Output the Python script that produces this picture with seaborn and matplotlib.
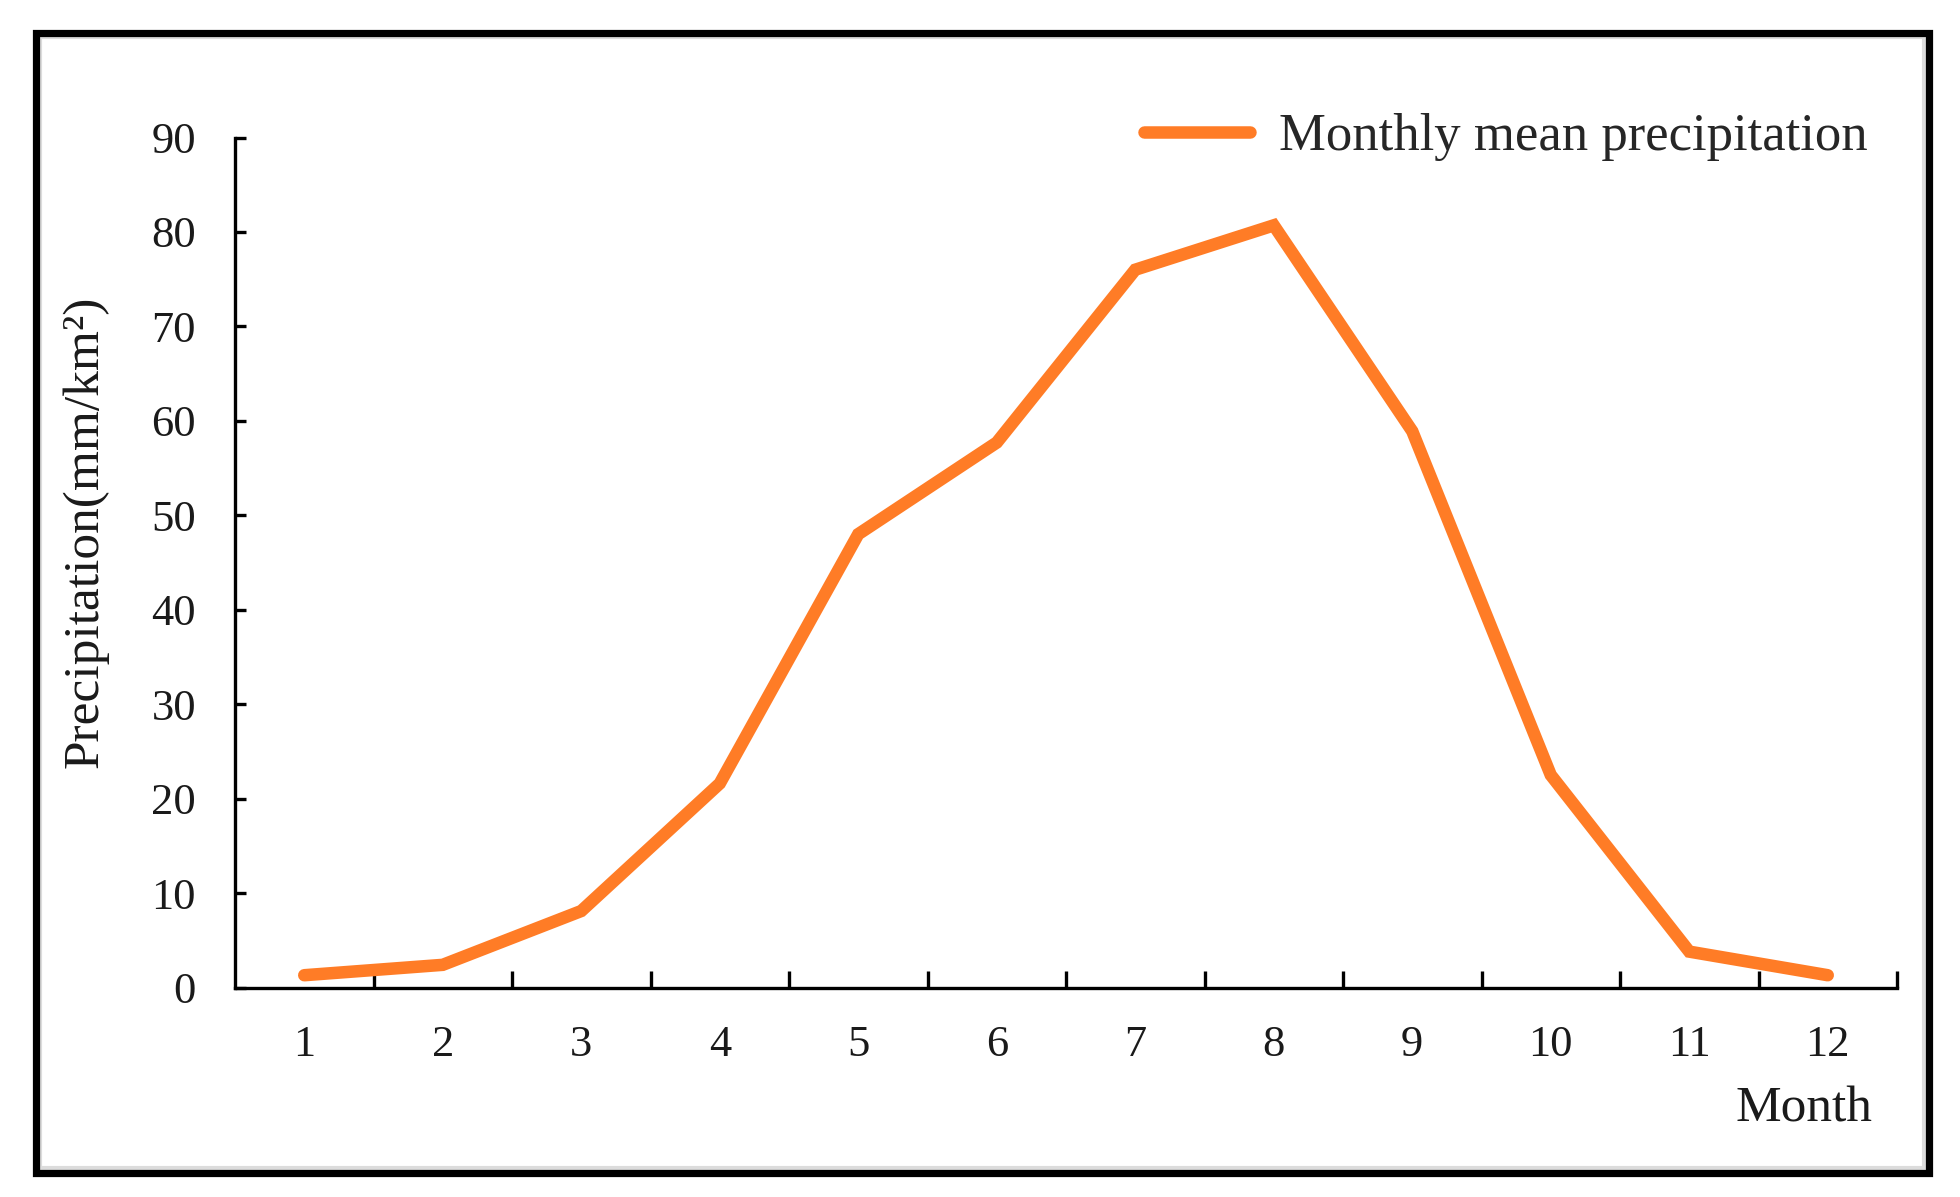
import pandas as pd
import matplotlib.pyplot as plt
import matplotlib.patches as mpatches
import seaborn as sns

# --- Data ---
months = [1, 2, 3, 4, 5, 6, 7, 8, 9, 10, 11, 12]
precipitation = [1.3, 2.4, 8.1, 21.6, 48.0, 57.7, 76.0, 80.7, 58.9, 22.5, 3.8, 1.3]
y_ticks = [0, 10, 20, 30, 40, 50, 60, 70, 80, 90]
series_name = 'Monthly mean precipitation'

df = pd.DataFrame({'Month': months, 'Precipitation': precipitation})

sns.set_style("white")
plt.rcParams['font.family'] = ['Liberation Serif', 'DejaVu Serif']

W, H = 1960, 1197
fig = plt.figure(figsize=(W / 100, H / 100), dpi=100)
ax = fig.add_axes([235 / W, 1 - 987.5 / H, (1897 - 235) / W, (987.5 - 137.5) / H])

sns.lineplot(data=df, x='Month', y='Precipitation', ax=ax,
             color='#FF7C26', linewidth=9, label=series_name,
             solid_capstyle='round', solid_joinstyle='miter')

# axes and ticks
ax.set_xlim(0.5, 12.5)
ax.set_ylim(0, 90)
ax.set_xticks(months)
ax.set_xticks([m + 0.5 for m in months], minor=True)
ax.set_yticks(y_ticks)
ax.tick_params(axis='x', which='major', bottom=True, length=0, pad=27, labelsize=32,
               labelcolor='#1a1a1a')
ax.tick_params(axis='x', which='minor', bottom=True, direction='in', length=12, width=2.4,
               color='black')
ax.tick_params(axis='y', which='major', left=True, direction='in', length=8, width=2.4,
               color='black', pad=28, labelsize=32, labelcolor='#1a1a1a')

for side in ['top', 'right']:
    ax.spines[side].set_visible(False)
for side in ['left', 'bottom']:
    ax.spines[side].set_color('black')
    ax.spines[side].set_linewidth(2.4)

ax.set_ylabel('Precipitation(mm/km²)', fontsize=37, color='#1a1a1a')
ax.yaxis.label.set(ha='center', va='center')
ax.yaxis.set_label_coords((85 - 235) / (1897 - 235), (987.5 - 532) / 850)

ax.set_xlabel('Month', fontsize=37, color='#1a1a1a')
ax.xaxis.label.set(ha='right', va='center')
ax.xaxis.set_label_coords((1872 - 235) / (1897 - 235), (987.5 - 1109) / 850)

# legend at top right
ax.legend(loc='center left', bbox_to_anchor=(1144 / W, 1 - 137 / H),
          bbox_transform=fig.transFigure, frameon=False, fontsize=38,
          handlelength=2.0, handletextpad=0.55, borderpad=0, borderaxespad=0)

# outer frame of the picture
fig.patches.append(mpatches.Rectangle((40 / W, 1 - 1168 / H), (1924 - 40) / W, (1168 - 37) / H,
                                      transform=fig.transFigure, fill=False,
                                      edgecolor='#dcdcdc', linewidth=3))
fig.patches.append(mpatches.Rectangle((35.5 / W, 1 - 1172.5 / H), (1928.5 - 35.5) / W, (1172.5 - 32.5) / H,
                                      transform=fig.transFigure, fill=False,
                                      edgecolor='black', linewidth=5.2, joinstyle='miter'))

fig.savefig('out.png', dpi=100)
plt.close(fig)
